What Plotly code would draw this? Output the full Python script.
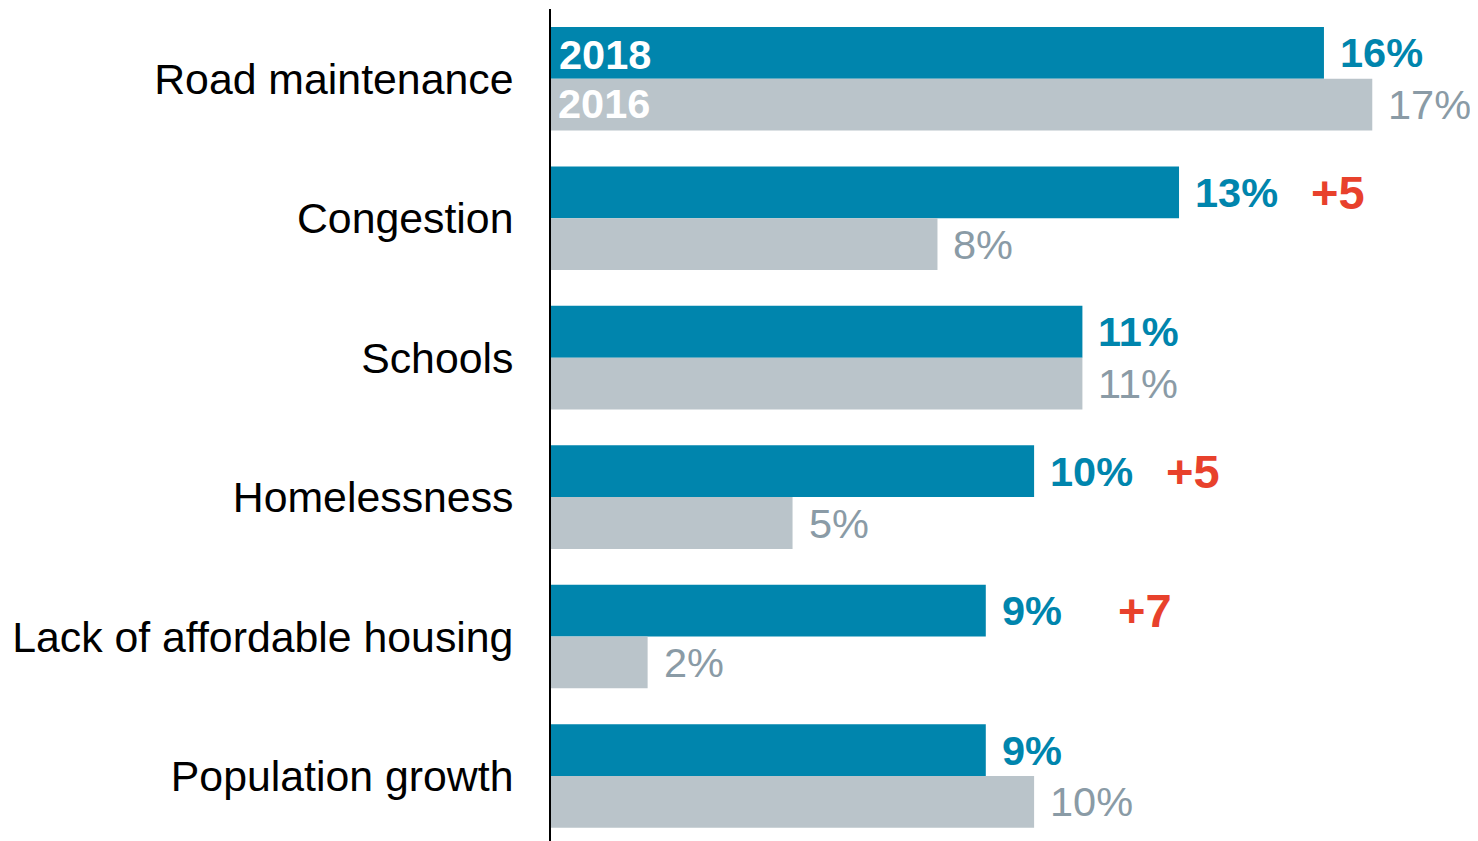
import plotly.graph_objects as go

categories = ["Road maintenance", "Congestion", "Schools", "Homelessness",
              "Lack of affordable housing", "Population growth"]
values_2018 = [16, 13, 11, 10, 9, 9]
values_2016 = [17, 8, 11, 5, 2, 10]
changes = ["", "+5", "", "+5", "+7", ""]
series_names = ["2018", "2016"]

BLUE = "#0085AD"
GRAY_BAR = "#BAC4CA"
GRAY_TXT = "#8A9BA6"
RED = "#E8412C"
FONT = "Liberation Sans, Arial, sans-serif"

fig = go.Figure()
fig.add_trace(go.Bar(y=categories, x=values_2018, orientation="h", name=series_names[0],
                     marker=dict(color=BLUE, line=dict(width=0))))
fig.add_trace(go.Bar(y=categories, x=values_2016, orientation="h", name=series_names[1],
                     marker=dict(color=GRAY_BAR, line=dict(width=0))))

bargap = 0.257
half = (1 - bargap) / 4
ann = []
for i, (c, a, b, ch) in enumerate(zip(categories, values_2018, values_2016, changes)):
    ann.append(dict(x=a, y=i - half, text=f"<b>{a}%</b>", showarrow=False, xanchor="left",
                    yanchor="middle", xshift=14, font=dict(color=BLUE, size=41.5, family=FONT)))
    ann.append(dict(x=b, y=i + half, text=f"{b}%", showarrow=False, xanchor="left",
                    yanchor="middle", xshift=14, font=dict(color=GRAY_TXT, size=41.5, family=FONT)))
    if ch:
        ann.append(dict(x=a, y=i - half, text=f"<b>{ch}</b>", showarrow=False, xanchor="left",
                        yanchor="middle", xshift=130, font=dict(color=RED, size=47, family=FONT)))

ann.append(dict(x=0, y=0 - half, text=f"<b>{series_names[0]}</b>", showarrow=False,
                xanchor="left", yanchor="middle", xshift=6, yshift=-2,
                font=dict(color="white", size=41.5, family=FONT)))
ann.append(dict(x=0, y=0 + half, text=f"<b>{series_names[1]}</b>", showarrow=False,
                xanchor="left", yanchor="middle", xshift=5, yshift=1,
                font=dict(color="white", size=41.5, family=FONT)))

fig.update_layout(
    width=1470, height=833,
    margin=dict(l=543, r=0, t=1, b=0, autoexpand=False),
    barmode="group", bargap=bargap, bargroupgap=0,
    plot_bgcolor="white", paper_bgcolor="white",
    showlegend=False,
    annotations=ann,
    xaxis=dict(range=[0, 927 / 48.31], showgrid=False, zeroline=False, showticklabels=False,
               showline=False, fixedrange=True, automargin=False),
    yaxis=dict(type="category", range=[5.966 - 0.5, -0.5], showgrid=False, zeroline=False,
               showline=True, linecolor="black", linewidth=2, automargin=False,
               ticks="", ticklabelstandoff=27,
               tickfont=dict(size=42.8, color="black", family=FONT)),
)

fig.write_html("out.html")
